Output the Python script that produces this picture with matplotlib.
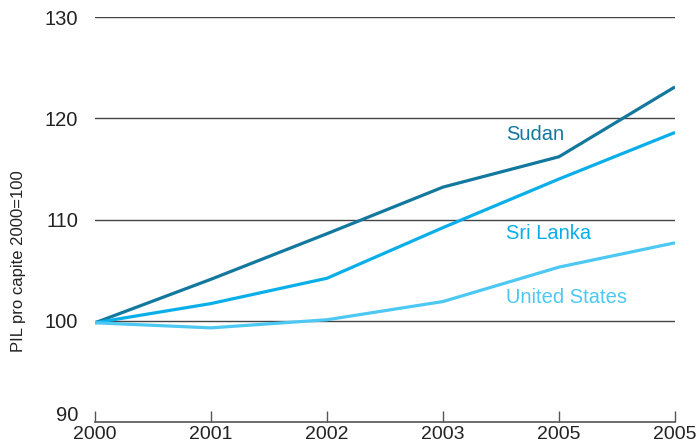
import matplotlib
matplotlib.use("Agg")
import matplotlib.pyplot as plt
from matplotlib.transforms import ScaledTranslation

plt.rcParams['font.family'] = ['Liberation Sans', 'DejaVu Sans']

# data
years = ["2000", "2001", "2002", "2003", "2005", "2005"]
sudan = [99.8, 104.1, 108.6, 113.2, 116.2, 123.1]
sri_lanka = [99.8, 101.7, 104.2, 109.2, 114.0, 118.6]
united_states = [99.8, 99.3, 100.1, 101.9, 105.3, 107.7]

series = [
  ("Sudan", sudan, "#13789e", 118.4),
  ("Sri Lanka", sri_lanka, "#0aaee8", 108.6),
  ("United States", united_states, "#4cc8f2", 102.3),
]

fig = plt.figure(figsize=(7, 4.44), dpi=100)
ax = fig.add_axes([0.1357, 0.0495, 0.8286, 0.9122])

x = list(range(len(years)))
for name, vals, color, label_y in series:
  ax.plot(x, vals, color=color, lw=2.3, solid_capstyle="butt", zorder=3)
  ax.text(3.54, label_y, name, color=color, fontsize=14.5, va="center", ha="left")

ax.set_ylim(90, 130)
ax.set_xlim(0, 5)
ax.set_yticks([90, 100, 110, 120, 130])
for v in [100, 110, 120, 130]:
  ax.axhline(v, color="#444444", lw=1, zorder=1)

ax.set_xticks(x)
ax.set_xticklabels(years)
for s in ["left", "right", "top"]:
  ax.spines[s].set_visible(False)
ax.spines["bottom"].set_color("#555555")
ax.spines["bottom"].set_linewidth(1.2)
ax.tick_params(axis="x", direction="in", length=8, width=1, color="#555555",
               labelsize=14, pad=3, labelcolor="#222222")
ax.tick_params(axis="y", length=0, labelsize=14.5, pad=12, labelcolor="#222222")

# the "90" label sits a bit above the axis line in the original
lbl = ax.yaxis.get_majorticklabels()[0]
lbl.set_transform(lbl.get_transform() + ScaledTranslation(0, 6/72, fig.dpi_scale_trans))

fig.text(0.026, 0.412, "PIL pro capite 2000=100", rotation=90, fontsize=12,
         color="#222222", va="center", ha="center")

fig.savefig("out.png", dpi=100)
